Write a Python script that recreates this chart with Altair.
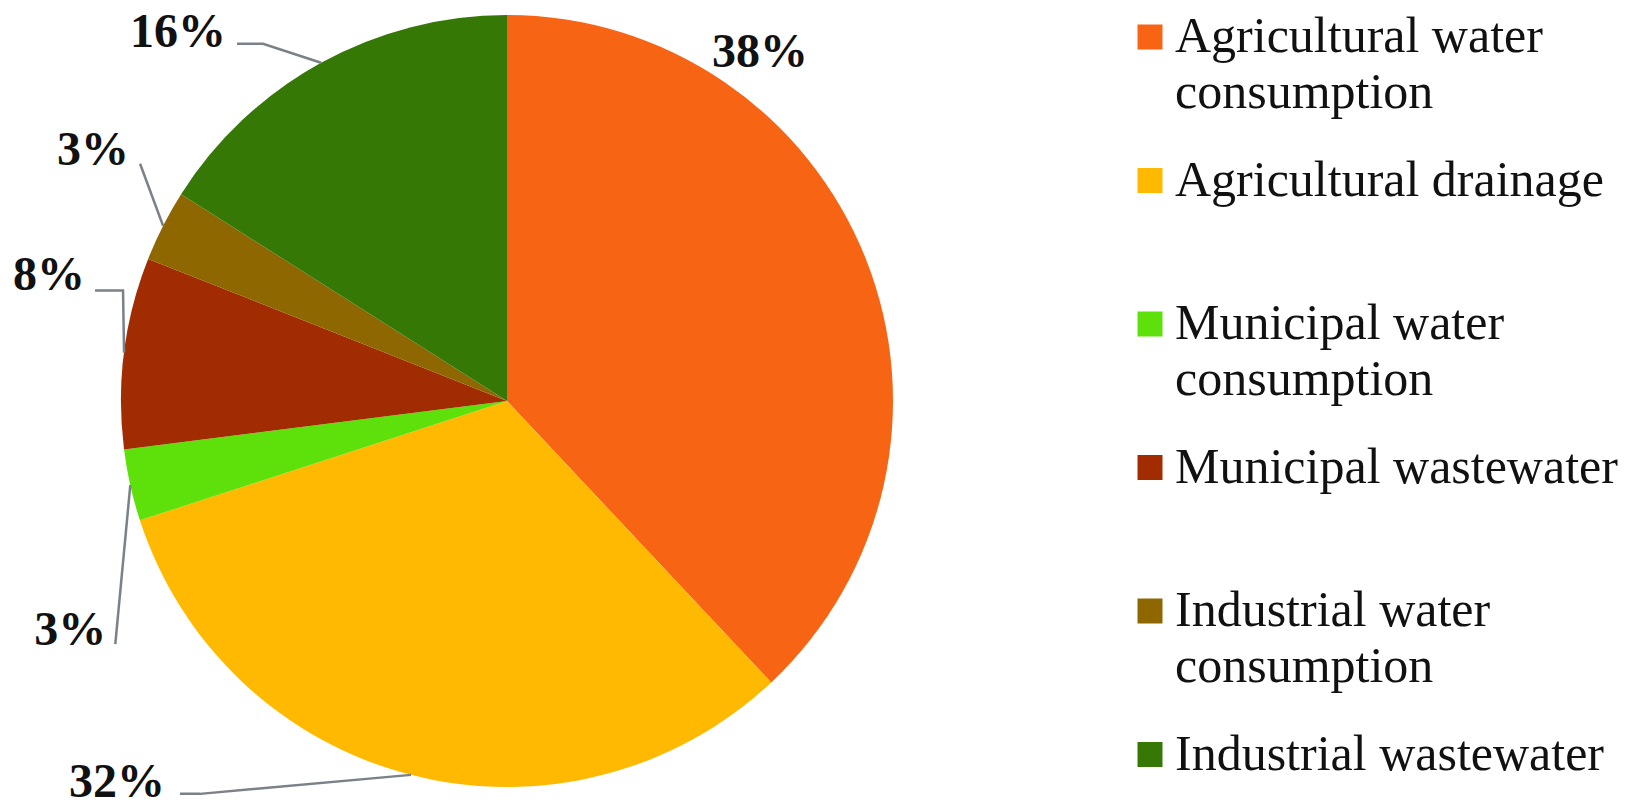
import math
import numpy as np
import pandas as pd
import altair as alt

# ---------------- data ----------------
categories = [
    "Agricultural water consumption",
    "Agricultural drainage",
    "Municipal water consumption",
    "Municipal wastewater",
    "Industrial water consumption",
    "Industrial wastewater",
]
shares = [38, 32, 3, 8, 3, 16]
colors = ["#F66414", "#FFB900", "#5EE00A", "#A12C02", "#8F6700", "#367806"]

# ---------------- layout (styling, not data) ----------------
W, H = 998, 784          # plot area
R_PX = 386               # pie radius in px
FONT = "Liberation Serif"

# label nudges in px (right, down) from the slice's outer edge at its mid-angle
label_nudge = {
    "Agricultural water consumption": (-106, -206),
    "Agricultural drainage": (-294, 8),
    "Municipal water consumption": (-60, 146),
    "Municipal wastewater": (-75, -77),
    "Industrial water consumption": (-70, -75),
    "Industrial wastewater": (-143, -30),
}
# leader-line bends (px nudges from the same edge point), edge point first
leader_nudge = {
    "Agricultural drainage": [(-211, 19), (-231, 19)],
    "Municipal water consumption": [(-15, 159)],
    "Municipal wastewater": [(-1, -62), (-29, -62)],
    "Industrial water consumption": [(-23, -62)],
    "Industrial wastewater": [(-58, -19), (-84, -19)],
}

# ---------------- derived tables ----------------
total = float(sum(shares))
cum_mid = np.cumsum(shares) - np.array(shares) / 2.0
mid_angle = cum_mid / total * 2 * math.pi
edge_u = np.sin(mid_angle)
edge_v = np.cos(mid_angle)

pie_df = pd.DataFrame({"category": categories, "share": shares, "idx": range(len(categories))})

lab_rows = []
for i, c in enumerate(categories):
    ndx, ndy = label_nudge[c]
    lab_rows.append({
        "category": c,
        "label": f"{shares[i]}%",
        "u": edge_u[i] + ndx / R_PX,
        "v": edge_v[i] - ndy / R_PX,
    })
lab_df = pd.DataFrame(lab_rows)

line_rows = []
for i, c in enumerate(categories):
    if c not in leader_nudge:
        continue
    line_rows.append({"category": c, "k": 0, "u": edge_u[i], "v": edge_v[i]})
    for k, (ndx, ndy) in enumerate(leader_nudge[c], start=1):
        line_rows.append({"category": c, "k": k,
                          "u": edge_u[i] + ndx / R_PX, "v": edge_v[i] - ndy / R_PX})
line_df = pd.DataFrame(line_rows)

xs = alt.Scale(domain=[-W / 2 / R_PX, W / 2 / R_PX], nice=False, zero=False)
ys = alt.Scale(domain=[-H / 2 / R_PX, H / 2 / R_PX], nice=False, zero=False)

last_cat = categories[-1]
label_expr = (
    "indexof(datum.label, ' consumption') > 0 ? "
    "[replace(datum.label, ' consumption', ''), 'consumption'] : "
    f"(datum.label === '{last_cat}' ? datum.label : [datum.label, ' '])"
)

pie = alt.Chart(pie_df).mark_arc(radius=R_PX).encode(
    theta=alt.Theta("share:Q", stack=True),
    order=alt.Order("idx:Q"),
    color=alt.Color(
        "category:N",
        sort=categories,
        scale=alt.Scale(domain=categories, range=colors),
        legend=alt.Legend(
            orient="none",
            legendX=1117,
            legendY=3,
            title=None,
            padding=0,
            symbolType="square",
            symbolSize=625,
            symbolStrokeWidth=0,
            labelFont=FONT,
            labelFontSize=50,
            labelColor="#111111",
            labelLimit=900,
            labelOffset=0,
            labelBaseline="middle",
            labelExpr=label_expr,
            rowPadding=37.5,
        ),
    ),
)

leaders = alt.Chart(line_df).mark_line(color="#7A8189", strokeWidth=2.5).encode(
    x=alt.X("u:Q", scale=xs, axis=None),
    y=alt.Y("v:Q", scale=ys, axis=None),
    detail="category:N",
    order="k:Q",
)

labels = alt.Chart(lab_df).mark_text(
    font=FONT, fontSize=48, fontWeight="bold", color="#111111",
    align="center", baseline="middle",
).encode(
    x=alt.X("u:Q", scale=xs, axis=None),
    y=alt.Y("v:Q", scale=ys, axis=None),
    text="label:N",
)

chart = alt.layer(pie, leaders, labels).properties(
    width=W, height=H, padding=0
).configure(
    style={"guide-label": {"lineHeight": 56}},
    view=alt.ViewConfig(stroke=None),
)

chart.save("out.html", embed_options={"renderer": "svg", "actions": False})
